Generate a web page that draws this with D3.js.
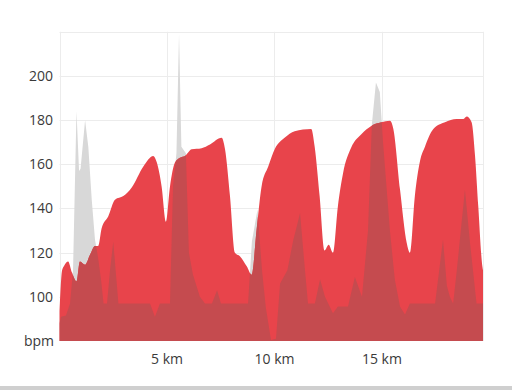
<!DOCTYPE html>
<html>
<head>
<meta charset="utf-8">
<script src="https://cdn.jsdelivr.net/npm/d3@7"></script>
<style>
  body { margin: 0; background: #fff; }
  svg { display: block; font-family: "Open Sans", sans-serif; }
</style>
</head>
<body>
<svg id="chart" width="512" height="390"></svg>
<script>
// heart rate (red), km / bpm
const hrKm = [0, 0.12, 0.21, 0.40, 0.58, 0.79, 0.95, 1.19, 1.42, 1.65, 1.80, 1.96, 2.27, 2.58, 2.97, 3.36,
  3.90, 4.36, 4.52, 4.75, 4.95, 5.14, 5.37, 5.60, 5.84, 6.15, 6.61, 7.00, 7.54, 7.70, 7.93, 8.16, 8.40,
  8.71, 8.94, 9.17, 9.40, 9.71, 10.02, 10.47, 10.94, 11.71, 11.87, 12.10, 12.33, 12.52, 12.72, 12.95,
  13.19, 13.57, 14.04, 14.50, 14.97, 15.37, 15.53, 15.84, 16.15, 16.30, 16.53, 16.77, 17.00, 17.39,
  17.93, 18.47, 18.78, 18.94, 19.17, 19.33, 19.48, 19.67, 19.70];
const hrBpm = [92, 112, 114, 116, 111, 107, 116, 114.5, 119, 123, 123, 131, 136.5, 144, 145.6, 149.5,
  159, 163.8, 161, 150, 134, 150, 160.8, 163, 163.8, 166.8, 167.3, 169, 172, 166.8, 145.6, 120, 118.3,
  113.8, 110, 130.5, 150, 159, 167, 172, 175, 176, 168, 145.6, 121, 123.6, 120, 141,
  156, 167.6, 173.6, 177.4, 179, 179.7, 176, 148.6, 124.5, 120, 145.6, 161.5, 168, 176,
  179, 180.5, 180.5, 181.7, 179, 163.8, 141, 113.8, 112];

// second series (gray), km / value
const grayKm = [0, 0.07, 0.30, 0.49, 0.63, 0.79, 0.91, 0.98, 1.19, 1.34, 1.50, 1.65, 1.79, 1.93, 2.05,
  2.21, 2.35, 2.50, 2.63, 2.74, 4.21, 4.44, 4.67, 5.14, 5.28, 5.44, 5.56, 5.67, 5.88, 6.02, 6.21, 6.53,
  6.77, 7.09, 7.33, 7.51, 8.77, 8.95, 9.21, 9.42, 9.60, 9.84, 10.07, 10.26, 10.60, 10.86, 11.19, 11.42,
  11.56, 11.88, 12.12, 12.35, 12.72, 12.95, 13.42, 13.74, 14.07, 14.35, 14.53, 14.72, 14.90, 15.05,
  15.37, 15.60, 15.84, 16.07, 16.30, 17.47, 17.84, 18.02, 18.16, 18.31, 18.47, 18.86, 19.09, 19.40, 19.70];
const grayVal = [88, 91, 91.5, 97, 112, 184, 157, 158, 180, 168, 144, 126, 118, 108, 97,
  97, 112, 125, 110, 97, 97, 91, 97, 97, 150, 165, 219, 168, 165, 120, 110, 100,
  97, 97, 103, 97, 97, 125, 139.5, 112, 95, 80.5, 81, 106, 112, 125, 138, 112,
  97, 97, 108, 100, 92.6, 95.6, 95.6, 109, 100, 130, 178, 197, 192.7, 170,
  130, 107.7, 95.6, 92, 97, 97, 126, 105, 100, 97, 111, 148.6, 125, 97, 97];

const yTicks = [100, 120, 140, 160, 180, 200];
const xTicks = [5, 10, 15];

const svg = d3.select("#chart");
const x = d3.scaleLinear().domain([0, 19.7]).range([59.5, 483]);
const y = d3.scaleLinear().domain([80, 220]).range([341, 31.8]);

const hr = hrKm.map((k, i) => ({ km: k, v: hrBpm[i] }));
const gray = grayKm.map((k, i) => ({ km: k, v: grayVal[i] }));

// grid
const grid = svg.append("g").attr("stroke", "#ececec").attr("stroke-width", 1);
grid.selectAll(".gy").data(yTicks.concat([220])).enter().append("line")
  .attr("x1", 59.5).attr("x2", 483)
  .attr("y1", d => Math.round(y(d)) + 0.5).attr("y2", d => Math.round(y(d)) + 0.5);
grid.selectAll(".gx").data([0].concat(xTicks).concat([19.7])).enter().append("line")
  .attr("x1", d => Math.round(x(d)) + 0.5).attr("x2", d => Math.round(x(d)) + 0.5)
  .attr("y1", y(220)).attr("y2", y(80));

const area = d3.area().x(d => x(d.km)).y0(y(80)).y1(d => y(d.v));

// gray series
svg.append("path").datum(gray)
  .attr("fill", "#d8d8d8")
  .attr("d", area.curve(d3.curveLinear));

// heart rate
const hrPath = area.curve(d3.curveMonotoneX)(hr);
svg.append("clipPath").attr("id", "hrclip").append("path").attr("d", hrPath);
svg.append("path").attr("fill", "#e8444b").attr("d", hrPath);

// overlap of both series
svg.append("path").datum(gray)
  .attr("clip-path", "url(#hrclip)")
  .attr("fill", "#c54b4f")
  .attr("d", area.curve(d3.curveLinear));

// y labels
svg.selectAll(".yl").data(yTicks).enter().append("text")
  .attr("x", 53).attr("y", d => y(d)).attr("dy", "0.35em")
  .attr("text-anchor", "end").attr("font-size", 14).attr("fill", "#3a3a3a")
  .text(d => d);
svg.append("text").attr("x", 54).attr("y", y(80)).attr("dy", "0.35em")
  .attr("text-anchor", "end").attr("font-size", 14).attr("fill", "#3a3a3a")
  .text("bpm");

// x labels
svg.selectAll(".xl").data(xTicks).enter().append("text")
  .attr("x", d => x(d)).attr("y", 364)
  .attr("text-anchor", "middle").attr("font-size", 14).attr("fill", "#3a3a3a")
  .text(d => d + " km");

// bottom rule
svg.append("rect").attr("x", 0).attr("y", 386).attr("width", 512).attr("height", 4).attr("fill", "#cfcfcf");
</script>
</body>
</html>
